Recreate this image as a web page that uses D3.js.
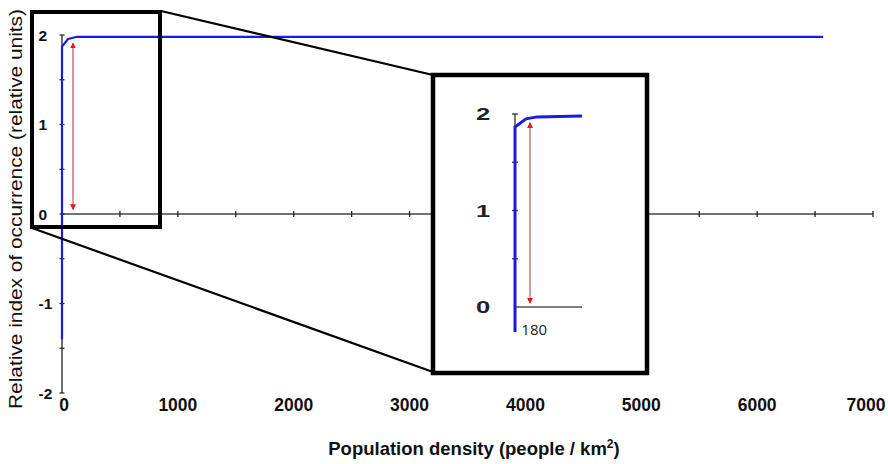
<!DOCTYPE html>
<html><head><meta charset="utf-8">
<script src="https://cdn.jsdelivr.net/npm/d3@7"></script>
<style>body{margin:0;background:#fff}svg{display:block}</style>
</head><body>
<svg id="c" width="888" height="464"></svg>
<script>
// ---- data ----
const xTickValues = [0,1000,2000,3000,4000,5000,6000,7000];
const yTickValues = [-2,-1,0,1,2];
const densityMain = [0, 0, 52, 130, 6570];
const indexMain   = [-1.4, 1.87, 1.955, 1.98, 1.98];
const densityInset = [0, 0, 115, 230, 700];
const indexInset   = [-0.26, 1.865, 1.95, 1.97, 1.98];
const insetYTicks = [0,1,2];
const insetXLabel = [180];
const arrowMain  = {x: 95, y0: 0.05, y1: 1.91};
const arrowInset = {x: 157, y0: 0.04, y1: 1.91};

const svg = d3.select('#c');
const font = 'Liberation Sans, Arial, sans-serif';

const defs = svg.append('defs');
defs.append('marker').attr('id','ah').attr('viewBox','0 0 10 10').attr('refX',9).attr('refY',5)
  .attr('markerWidth',6).attr('markerHeight',6).attr('markerUnits','userSpaceOnUse')
  .attr('orient','auto-start-reverse')
  .append('path').attr('d','M0,0L10,5L0,10z').attr('fill','#e8141c');

// ---- main scales ----
const x = d3.scaleLinear().domain([0,7000]).range([62,873]);
const y = d3.scaleLinear().domain([-2,2]).range([393,35]);

// x axis line (at y=0)
const gx = svg.append('g');
gx.append('line').attr('x1',x(0)).attr('x2',x(7000)).attr('y1',y(0)).attr('y2',y(0))
  .attr('stroke','#444').attr('stroke-width',1.5);
gx.selectAll('.xt').data(d3.range(500,7001,500)).join('line')
  .attr('x1',d=>x(d)).attr('x2',d=>x(d)).attr('y1',y(0)-3).attr('y2',y(0)+3)
  .attr('stroke','#222').attr('stroke-width',1.3);

// y axis
const gy = svg.append('g');
gy.append('line').attr('x1',x(0)).attr('x2',x(0)).attr('y1',y(2)).attr('y2',y(-2))
  .attr('stroke','#222').attr('stroke-width',1.3);
gy.selectAll('.yt').data(d3.range(-2,2.01,0.5)).join('line')
  .attr('x1',x(0)-2.5).attr('x2',x(0)+2.5).attr('y1',d=>y(d)).attr('y2',d=>y(d))
  .attr('stroke','#222').attr('stroke-width',1.2);
gy.selectAll('.yl').data(yTickValues).join('text')
  .attr('x',38.5).attr('y',d=>y(d)+5.5).attr('text-anchor','start')
  .attr('font-family',font).attr('font-weight','bold').attr('font-size',15.5).attr('fill','#111')
  .text(d=>d);

// x tick labels
svg.selectAll('.xl').data(xTickValues).join('text')
  .attr('x',d=>x(d) + (d===0?2:0) - (d===7000?7:0)).attr('y',411).attr('text-anchor','middle')
  .attr('font-family',font).attr('font-weight','bold').attr('font-size',17.5).attr('fill','#111')
  .text(d=>d);

// main blue line
const line = d3.line().x(d=>x(d[0])).y(d=>y(d[1]));
svg.append('path').datum(d3.zip(densityMain,indexMain)).attr('d',line)
  .attr('fill','none').attr('stroke','#1a1ae0').attr('stroke-width',2.2);

// main red arrow
svg.append('line').attr('x1',x(arrowMain.x)).attr('x2',x(arrowMain.x))
  .attr('y1',y(arrowMain.y0)).attr('y2',y(arrowMain.y1))
  .attr('stroke','#b65a55').attr('stroke-width',1.2)
  .attr('marker-start','url(#ah)').attr('marker-end','url(#ah)');

// connectors
svg.append('line').attr('x1',161).attr('y1',11).attr('x2',433).attr('y2',75)
  .attr('stroke','#000').attr('stroke-width',2.2);
svg.append('line').attr('x1',32).attr('y1',228).attr('x2',433).attr('y2',372)
  .attr('stroke','#000').attr('stroke-width',2.2);

// small zoom box
svg.append('rect').attr('x',32).attr('y',12).attr('width',128).attr('height',215)
  .attr('fill','none').attr('stroke','#000').attr('stroke-width',4);

// inset box
svg.append('rect').attr('x',433).attr('y',75).attr('width',214).attr('height',298)
  .attr('fill','#fff').attr('stroke','#000').attr('stroke-width',4.5);

// ---- inset ----
const ix = d3.scaleLinear().domain([0,700]).range([515,582]);
const iy = d3.scaleLinear().domain([0,2]).range([307,114]);
const gi = svg.append('g');
gi.append('line').attr('x1',ix(0)).attr('x2',ix(700)).attr('y1',iy(0)).attr('y2',iy(0))
  .attr('stroke','#555').attr('stroke-width',1.5);
gi.append('line').attr('x1',ix(0)).attr('x2',ix(0)).attr('y1',iy(2)).attr('y2',iy(0))
  .attr('stroke','#333').attr('stroke-width',1.3);
gi.selectAll('.it').data(d3.range(0.5,2.01,0.5)).join('line')
  .attr('x1',ix(0)-3).attr('x2',ix(0)+3).attr('y1',d=>iy(d)).attr('y2',d=>iy(d))
  .attr('stroke','#333').attr('stroke-width',1.3);
gi.selectAll('.il').data(insetYTicks).join('text')
  .attr('transform',d=>`translate(483,${iy(d)+6}) scale(1.55,1)`)
  .attr('text-anchor','middle')
  .attr('font-family',font).attr('font-weight','bold').attr('font-size',16.5).attr('fill','#222')
  .text(d=>d);
const iline = d3.line().x(d=>ix(d[0])).y(d=>iy(d[1]));
gi.append('path').datum(d3.zip(densityInset,indexInset)).attr('d',iline)
  .attr('fill','none').attr('stroke','#1a1ae6').attr('stroke-width',3);
gi.append('line').attr('x1',ix(arrowInset.x)).attr('x2',ix(arrowInset.x))
  .attr('y1',iy(arrowInset.y0)).attr('y2',iy(arrowInset.y1))
  .attr('stroke','#b65a55').attr('stroke-width',1.2)
  .attr('marker-start','url(#ah)').attr('marker-end','url(#ah)');
gi.selectAll('.ixl').data(insetXLabel).join('text')
  .attr('x',d=>ix(d)+2).attr('y',335).attr('text-anchor','middle')
  .attr('font-family','Open Sans, sans-serif').attr('font-size',15).attr('fill','#222')
  .text(d=>d);

// axis titles
const xt = svg.append('text').attr('x',474).attr('y',455).attr('text-anchor','middle')
  .attr('font-family',font).attr('font-weight','bold').attr('font-size',18.5).attr('fill','#111');
xt.append('tspan').text('Population density (people / km');
xt.append('tspan').attr('dy',-7).attr('font-size',12).text('2');
xt.append('tspan').attr('dy',7).text(')');

svg.append('text').attr('transform','translate(22,209) rotate(-90)').attr('text-anchor','middle')
  .attr('font-family',font).attr('font-size',18.5).attr('fill','#111')
  .attr('textLength',400).attr('lengthAdjust','spacingAndGlyphs')
  .text('Relative index of occurrence (relative units)');
</script>
</body></html>
